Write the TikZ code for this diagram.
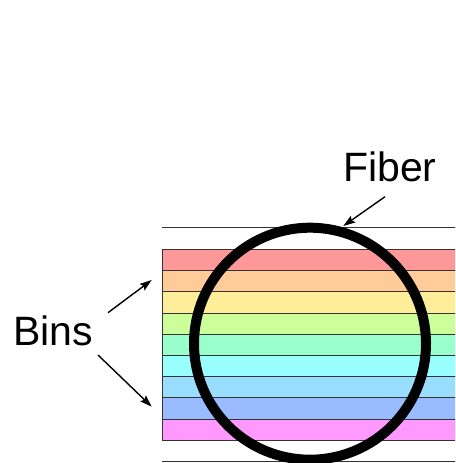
\documentclass[tikz,border=0pt]{standalone}
\usepackage{fontspec}
\setmainfont{Liberation Sans}
\usetikzlibrary{arrows.meta}
\definecolor{b1}{HTML}{FF9999}
\definecolor{b2}{HTML}{FFCC99}
\definecolor{b3}{HTML}{FFEE99}
\definecolor{b4}{HTML}{CCFF99}
\definecolor{b5}{HTML}{99FFCC}
\definecolor{b6}{HTML}{99FFFF}
\definecolor{b7}{HTML}{99DDFF}
\definecolor{b8}{HTML}{99BBFF}
\definecolor{b9}{HTML}{FF99FF}
\definecolor{edge}{HTML}{333333}
\tikzset{
  binbox/.style={draw=edge, line width=1pt, rectangle, anchor=north west, inner sep=0pt, minimum width=320pt, minimum height=21.2pt},
  edgeline/.style={draw=edge, line width=1pt},
  label/.style={font=\fontsize{41}{49}\selectfont, inner sep=0pt, anchor=base west},
  ptr/.style={line width=1.4pt, -{Stealth[length=12pt,width=8pt,inset=2pt]}},
}
\begin{document}
\begin{tikzpicture}[x=1pt,y=-1pt]
\useasboundingbox (0,0) rectangle (455,463);
\clip (0,0) rectangle (455,463);
\coordinate (topL) at (162,227.7);
\coordinate (topR) at (470,227.7);
\coordinate (botL) at (162,461.7);
\coordinate (botR) at (470,461.7);
\draw[edgeline] (topL) -- (topR);
\draw[edgeline] (botL) -- (botR);
\foreach \i/\c in {0/b1,1/b2,2/b3,3/b4,4/b5,5/b6,6/b7,7/b8,8/b9}{
  \node[binbox, fill=\c] (bin\i) at (162,{249+21.2*\i}) {};
}
\node[draw, circle, line width=10pt, minimum size=232pt, inner sep=0pt] (fiber) at (310,343.7) {};
\node[label] (binslabel) at (13,345) {Bins};
\node[label] (fiberlabel) at (343,181.7) {Fiber};
\coordinate (a1s) at (108,312.7);
\coordinate (a1e) at (151.7,280);
\coordinate (a2s) at (98,355);
\coordinate (a2e) at (151.7,406.7);
\coordinate (a3s) at (385,196.7);
\coordinate (a3e) at (343.3,226);
\draw[ptr] (a1s) -- (a1e);
\draw[ptr] (a2s) -- (a2e);
\draw[ptr] (a3s) -- (a3e);
\end{tikzpicture}
\end{document}
